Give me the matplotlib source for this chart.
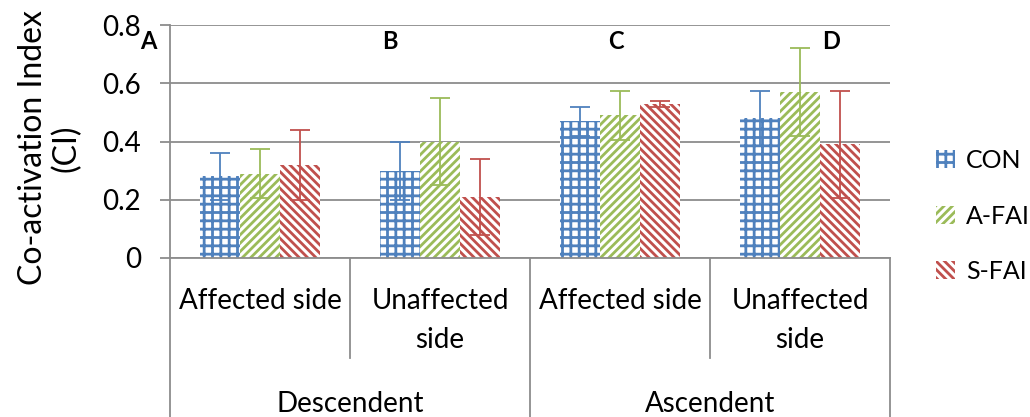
import matplotlib
matplotlib.use("Agg")
import matplotlib.pyplot as plt
import matplotlib.transforms as mtransforms
import numpy as np

plt.rcParams['font.family'] = ['Lato', 'DejaVu Sans']
plt.rcParams['hatch.linewidth'] = 2.0

groups = ["Affected side", "Unaffected\nside", "Affected side", "Unaffected\nside"]
outer = ["Descendent", "Ascendent"]
panel_letters = ["A", "B", "C", "D"]
series = ["CON", "A-FAI", "S-FAI"]
con = [0.28, 0.30, 0.47, 0.48]
con_err = [0.08, 0.10, 0.05, 0.095]
afai = [0.29, 0.40, 0.49, 0.57]
afai_err = [0.083, 0.15, 0.085, 0.15]
sfai = [0.32, 0.21, 0.53, 0.39]
sfai_err = [0.12, 0.13, 0.01, 0.185]
yticks = [0, 0.2, 0.4, 0.6, 0.8]

colors = ["#4F81BD", "#9BBB59", "#C0504D"]
hatches = ["++", "////", "\\\\\\\\"]
grey = "#8C8C8C"

fig = plt.figure(figsize=(10.3, 4.17), dpi=100)
ax = fig.add_axes([170/1030, 1-258/417, 720/1030, 233/417])

x = np.arange(len(groups))
w = 0.222
vals = [con, afai, sfai]
errs = [con_err, afai_err, sfai_err]
for i in range(3):
    ax.bar(x + (i-1)*w, vals[i], w*1.0, facecolor="white", edgecolor=colors[i],
           hatch=hatches[i], linewidth=0, label=series[i], zorder=2)
    ax.errorbar(x + (i-1)*w, vals[i], yerr=errs[i], fmt="none", ecolor=colors[i],
                elinewidth=1.3, capsize=7, capthick=1.3, zorder=3)

ax.set_xlim(-0.5, 3.5)
ax.set_ylim(0, 0.8)
ax.set_yticks(yticks)
ax.set_yticklabels(["0", "0.2", "0.4", "0.6", "0.8"], fontsize=20)
ax.tick_params(axis='y', length=7, width=1.3, color=grey, pad=14)
ax.yaxis.grid(True, color=grey, linewidth=1.3, zorder=0)
ax.set_axisbelow(True)
for s in ["right", "top"]:
    ax.spines[s].set_visible(False)
for s in ["bottom", "left"]:
    ax.spines[s].set_color(grey)
    ax.spines[s].set_linewidth(1.3)
ax.set_xticks([])

fig.text(50/1030, 1-148/417, "Co-activation Index\n(CI)", rotation=90, ha="center",
         va="center", fontsize=23, linespacing=1.15, multialignment="center")

trans = mtransforms.blended_transform_factory(ax.transData, ax.transAxes)
bounds = [-0.5, 0.5, 1.5, 2.5, 3.5]
for j, b in enumerate(bounds):
    ybot = -0.7 if j % 2 == 0 else -0.429
    ax.plot([b, b], [0, ybot], transform=trans, color=grey, lw=1.3, clip_on=False)

for i, g in enumerate(groups):
    ax.text(i, -0.128, g, transform=trans, ha="center", va="top", fontsize=20, linespacing=1.62)
for k, o in enumerate(outer):
    ax.text(0.5 + 2*k, -0.57, o, transform=trans, ha="center", va="top", fontsize=20)

letter_x = [-0.62, 0.72, 1.98, 3.17]
for lx, lt in zip(letter_x, panel_letters):
    ax.text(lx, 0.742, lt, ha="center", va="center", fontsize=17, fontweight="bold",
            family=["Lato", "DejaVu Sans"])

leg = ax.legend(loc="center left", bbox_to_anchor=(1.05, 0.18), frameon=False,
                fontsize=18, handlelength=0.75, handleheight=0.75, labelspacing=1.3,
                handletextpad=0.45, borderaxespad=0)

fig.savefig("out.png", dpi=100)
